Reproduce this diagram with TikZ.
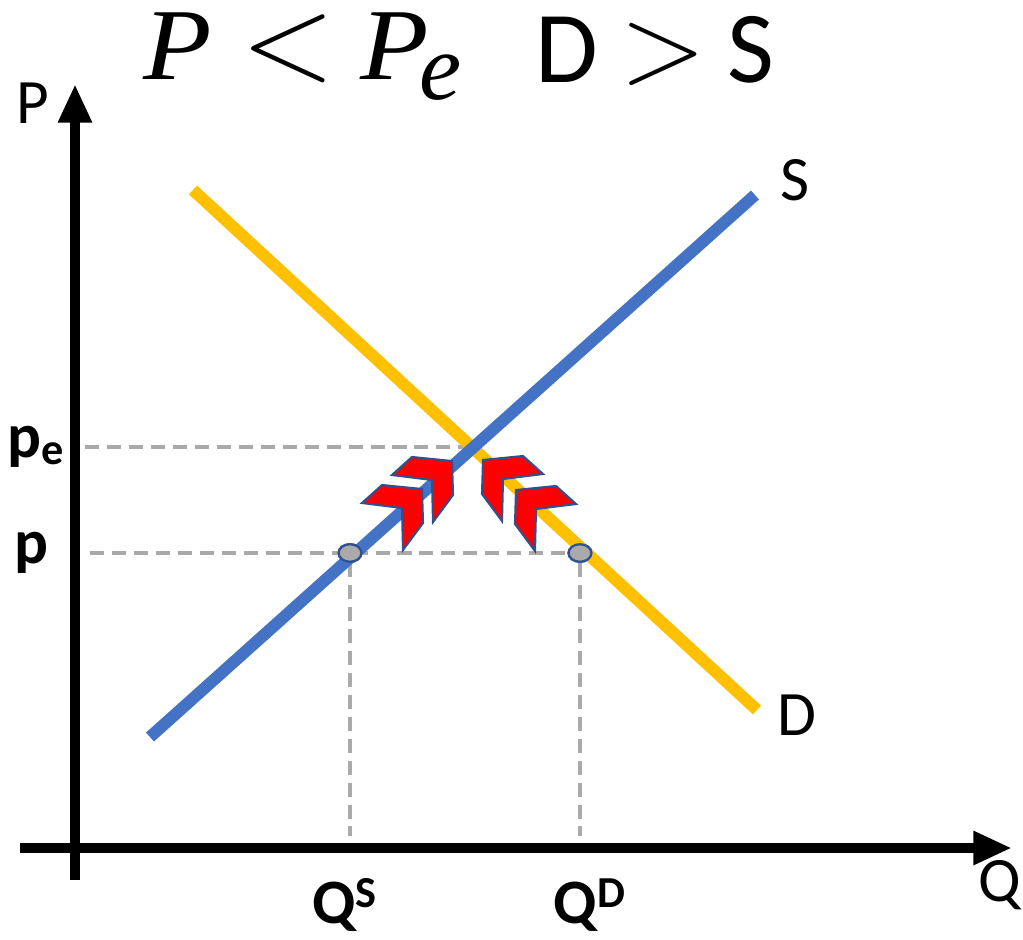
\documentclass[tikz,border=0pt]{standalone}
\usepackage{fontspec}
\setmainfont{Carlito}
\newfontfamily\ttlserif{Liberation Serif}
\newfontfamily\relfont{Latin Modern Roman}
\usepackage{graphicx}
\usepackage{tikz}
\usetikzlibrary{arrows.meta, shapes.geometric}

\definecolor{supplyblue}{RGB}{68,114,196}
\definecolor{demandgold}{RGB}{255,192,0}
\definecolor{guidegray}{RGB}{170,170,170}
\definecolor{chevred}{RGB}{255,0,0}
\definecolor{chevedge}{RGB}{47,82,143}

\begin{document}
\begin{tikzpicture}[
    x=0.02cm, y=-0.02cm,
    axis/.style={line width=5.7pt, -{Triangle[length=22pt,width=18pt]}},
    curve/.style={line width=6.8pt},
    guide/.style={guidegray, line width=2.3pt, dash pattern=on 8pt off 4.5pt},
    qdot/.style={ellipse, draw=chevedge, fill=guidegray, line width=1.3pt,
                 minimum width=13pt, minimum height=10pt, inner sep=0pt},
    chev/.style={fill=chevred, draw=chevedge, line width=1.2pt},
    lbl/.style={font=\fontsize{36}{40}\selectfont, inner sep=0pt},
    tick/.style={font=\fontsize{36}{40}\selectfont\bfseries, inner sep=0pt}
  ]
    \useasboundingbox (0,0) rectangle (1023,939);

    % title
    \node[anchor=base west, inner sep=0pt, font=\ttlserif\fontsize{58}{60}\selectfont] (ttl) at (143,80)
      {{\itshape\scalebox{1.1}[1]{P}}\hspace{17pt}{\relfont\fontsize{70}{72}\selectfont<}\hspace{14pt}{\itshape\scalebox{1.1}[1]{P}\hspace{-5pt}\raisebox{-11pt}{\fontsize{54}{56}\selectfont e}}};
    \node[anchor=base west, inner sep=0pt, font=\fontsize{58}{60}\selectfont] (ttr) at (535,83)
      {D\hspace{13pt}{\relfont\fontsize{64}{66}\selectfont>}\hspace{12pt}S};

    % axes
    \coordinate (ybot) at (75,880);
    \coordinate (ytop) at (75,84);
    \coordinate (xlft) at (20,848);
    \coordinate (xrgt) at (1012,848);
    \draw[axis] (ybot) -- (ytop);
    \draw[axis] (xlft) -- (xrgt);
    \node[lbl] (plab) at (33,103) {P};
    \node[lbl] (qlab) at (1000,885) {Q};

    % guide lines
    \coordinate (eq) at (474,447);
    \coordinate (pe0) at (85,447);
    \coordinate (p0) at (90,553);
    \node[qdot] (qs) at (350,553) {};
    \node[qdot] (qd) at (580,553) {};
    \coordinate (qsb) at (350,836);
    \coordinate (qdb) at (580,836);
    \draw[guide] (pe0) -- (eq);
    \draw[guide] (p0) -- (qd);
    \draw[guide] (qs) -- (qsb);
    \draw[guide] (qd) -- (qdb);

    % demand and supply
    \coordinate (d0) at (193,190);
    \coordinate (d1) at (757,710);
    \coordinate (s0) at (150,737);
    \coordinate (s1) at (755,195);
    \draw[curve, demandgold] (d0) -- (d1);
    \draw[curve, supplyblue] (s0) -- (s1);
    \node[lbl] (slab) at (795,180) {S};
    \node[lbl] (dlab) at (797,715) {D};

    % dots on top
    \node[qdot] at (qs) {};
    \node[qdot] at (qd) {};

    % chevrons
    \foreach \tx/\ty in {452/461, 422/489}
      \filldraw[chev, shift={(\tx,\ty)}] (-60,14) -- (-40,-4) -- (0,0) -- (1,34) -- (-19,61) -- (-20,19) -- cycle;
    \foreach \tx/\ty in {483/460, 516/490}
      \filldraw[chev, shift={(\tx,\ty)}] (60,14) -- (40,-4) -- (0,0) -- (-1,34) -- (19,61) -- (20,19) -- cycle;

    % value labels
    \node[tick] (pelab) at (36,447) {p\textsubscript{e}};
    \node[tick] (plow) at (31,553) {p};
    \node[tick] (qslab) at (345,905) {Q\textsuperscript{S}};
    \node[tick] (qdlab) at (590,905) {Q\textsuperscript{D}};
  \end{tikzpicture}
\end{document}
